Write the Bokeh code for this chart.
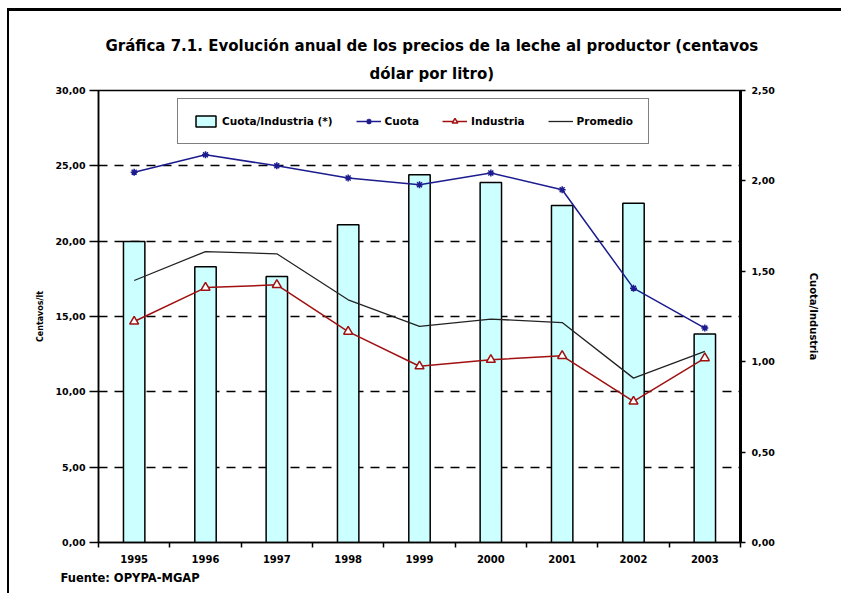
import math
from bokeh.plotting import figure
from bokeh.models import (Range1d, LinearAxis, FixedTicker, Legend, LegendItem,
                          ColumnDataSource, Title)
from bokeh.embed import file_html
from bokeh.resources import INLINE

# ---------------- data ----------------
years = ["1995", "1996", "1997", "1998", "1999", "2000", "2001", "2002", "2003"]
cuota = [24.58, 25.73, 25.00, 24.19, 23.74, 24.52, 23.41, 16.88, 14.23]
industria = [14.67, 16.92, 17.10, 14.00, 11.70, 12.13, 12.39, 9.36, 12.24]
promedio = [17.39, 19.31, 19.16, 16.11, 14.34, 14.83, 14.60, 10.91, 12.68]
ratio = [1.665, 1.525, 1.471, 1.757, 2.034, 1.991, 1.864, 1.877, 1.153]
left_ticks = [0, 5, 10, 15, 20, 25, 30]
right_ticks = [0, 0.5, 1.0, 1.5, 2.0, 2.5]

title_1 = "Gráfica 7.1. Evolución anual de los precios de la leche al productor (centavos"
title_2 = "dólar por litro)"
source_text = "Fuente: OPYPA-MGAP"
right_label = "Cuota/Industria"

FONT = "DejaVu Sans"

xpos = [i + 0.5 for i in range(len(years))]
src = ColumnDataSource(dict(x=xpos, cuota=cuota, industria=industria,
                            promedio=promedio, ratio=ratio))

p = figure(frame_width=642, frame_height=452,
           min_border_left=89, min_border_top=79, min_border_right=101, min_border_bottom=51,
           x_range=Range1d(0, len(years)), y_range=Range1d(0, 30),
           output_backend="svg", toolbar_location=None, tools="")
p.styles = {"margin-left": "7px", "margin-top": "8px",
            "border-top": "3px solid black", "border-left": "2px solid black"}
p.background_fill_color = "white"
p.border_fill_color = "white"
p.outline_line_color = "black"
p.outline_line_width = 1.5

p.extra_y_ranges = {"ratio": Range1d(0, 2.5)}

# grid
p.xgrid.visible = False
p.ygrid.ticker = FixedTicker(ticks=[5, 10, 15, 20, 25])
p.ygrid.grid_line_color = "black"
p.ygrid.grid_line_width = 1.5
p.ygrid.grid_line_dash = "9 7"

# x axis
xa = p.xaxis[0]
xa.ticker = FixedTicker(ticks=xpos, minor_ticks=list(range(len(years) + 1)))
xa.major_label_overrides = {x: y for x, y in zip(xpos, years)}
xa.major_tick_out = 0
xa.major_tick_in = 0
xa.minor_tick_out = 5
xa.minor_tick_in = 0
xa.minor_tick_line_color = "black"
xa.minor_tick_line_width = 1.5
xa.axis_line_color = "black"
xa.axis_line_width = 1.5
xa.major_label_standoff = 7
xa.major_label_text_font = FONT
xa.major_label_text_font_style = "bold"
xa.major_label_text_font_size = "10px"
xa.major_label_text_color = "black"

# left axis
ya = p.yaxis[0]
ya.ticker = FixedTicker(ticks=left_ticks)
ya.major_label_overrides = {t: f"{t:.2f}".replace(".", ",") for t in left_ticks}
ya.minor_tick_line_color = None
ya.major_tick_out = 9
ya.major_tick_in = 0
ya.major_tick_line_width = 1.5
ya.major_tick_line_color = "black"
ya.axis_line_color = "black"
ya.axis_line_width = 1.5
ya.major_label_standoff = 4
ya.major_label_text_font = FONT
ya.major_label_text_font_style = "bold"
ya.major_label_text_font_size = "9.5px"
ya.major_label_text_color = "black"
ya.axis_label = "Centavos/lt"
ya.axis_label_text_font = FONT
ya.axis_label_text_font_style = "bold"
ya.axis_label_text_font_size = "8px"
ya.axis_label_text_color = "black"
ya.axis_label_standoff = 7

# right axis
ra = LinearAxis(y_range_name="ratio", ticker=FixedTicker(ticks=right_ticks))
ra.major_label_overrides = {t: f"{t:.2f}".replace(".", ",") for t in right_ticks}
ra.minor_tick_line_color = None
ra.major_tick_out = 5
ra.major_tick_in = 0
ra.major_tick_line_width = 1.5
ra.major_tick_line_color = "black"
ra.axis_line_color = "black"
ra.axis_line_width = 3
ra.major_label_standoff = 6
ra.major_label_text_font = FONT
ra.major_label_text_font_style = "bold"
ra.major_label_text_font_size = "9.5px"
ra.major_label_text_color = "black"
ra.axis_label = right_label
ra.axis_label_orientation = "vertical"
ra.axis_label_text_font = FONT
ra.axis_label_text_font_style = "bold"
ra.axis_label_text_font_size = "10px"
ra.axis_label_text_color = "black"
ra.axis_label_standoff = 30
p.add_layout(ra, "right")

# glyphs
bars = p.vbar(x="x", top="ratio", width=0.3, bottom=0, source=src, y_range_name="ratio",
              fill_color="#ccffff", line_color="black", line_width=1.5)
cl = p.line(x="x", y="cuota", source=src, line_color="#1c1c8f", line_width=1.5)
cm = p.scatter(x="x", y="cuota", source=src, marker="asterisk", size=7,
               line_color="#1c1c8f", line_width=1.5)
il = p.line(x="x", y="industria", source=src, line_color="#a01010", line_width=1.5)
im = p.scatter(x="x", y="industria", source=src, marker="triangle", size=9,
               fill_color="white", line_color="#a01010", line_width=1.5)
pl = p.line(x="x", y="promedio", source=src, line_color="#222222", line_width=1.3)

legend = Legend(items=[
    LegendItem(label="Cuota/Industria (*)", renderers=[bars]),
    LegendItem(label="Cuota", renderers=[cl, cm]),
    LegendItem(label="Industria", renderers=[il, im]),
    LegendItem(label="Promedio", renderers=[pl]),
], orientation="horizontal", location=(79, 398))
legend.padding = 15
legend.spacing = 23
legend.glyph_width = 25
legend.glyph_height = 14
legend.label_height = 14
legend.label_standoff = 4
legend.label_text_font = FONT
legend.label_text_font_style = "bold"
legend.label_text_font_size = "10.5px"
legend.label_text_color = "black"
legend.border_line_color = "black"
legend.border_line_width = 1.5
legend.background_fill_color = "white"
legend.background_fill_alpha = 1
legend.margin = 0
p.add_layout(legend, "center")

# titles and source
p.add_layout(Title(text=title_2, align="left", offset=271, standoff=16,
                   text_font=FONT, text_font_style="bold", text_font_size="15px",
                   text_color="black"), "above")
p.add_layout(Title(text=title_1, align="left", offset=7, standoff=0,
                   text_font=FONT, text_font_style="bold", text_font_size="15px",
                   text_color="black"), "above")
p.add_layout(Title(text=source_text, align="left", offset=-38, standoff=6,
                   text_font=FONT, text_font_style="bold", text_font_size="11.5px",
                   text_color="black"), "below")

open("out.html", "w").write(file_html(p, INLINE))
